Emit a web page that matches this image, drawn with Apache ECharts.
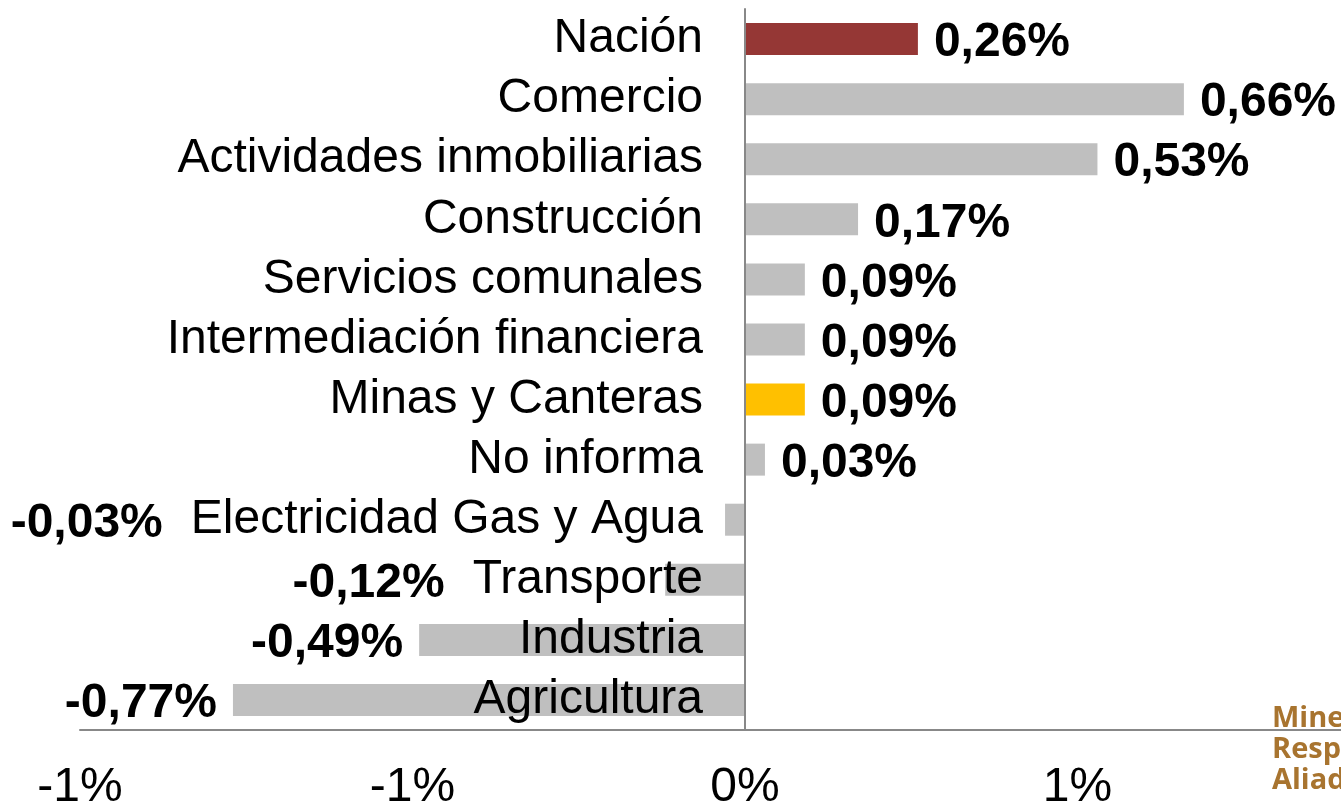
<!DOCTYPE html>
<html>
<head>
<meta charset="utf-8">
<script src="https://cdn.jsdelivr.net/npm/echarts@6/dist/echarts.min.js"></script>
<style>
html,body{margin:0;padding:0;background:#fff;}
#chart{width:1341px;height:807px;}
</style>
</head>
<body>
<div id="chart"></div>
<script>
var categories = ['Nación','Comercio','Actividades inmobiliarias','Construcción','Servicios comunales','Intermediación financiera','Minas y Canteras','No informa','Electricidad Gas y Agua','Transporte','Industria','Agricultura'];
var values = [0.26, 0.66, 0.53, 0.17, 0.09, 0.09, 0.09, 0.03, -0.03, -0.12, -0.49, -0.77];
var tickLabels = ['-1%','-1%','0%','1%','1%'];
var logoLines = ['Mine','Resp','Aliad'];

var highlight = {'Nación':'#953735','Minas y Canteras':'#FFC000'};
var baseColor = '#BFBFBF';
var font = '"Liberation Sans", Arial, sans-serif';
var fontSize = 48;
var catMargin = 42, labelDist = 16, labelGap = 28, labelDy = 4;

var gridLeft = 80, gridRight = -69, xMin = -1, xMax = 1;
var gridWidth = 1341 - gridLeft - gridRight;
var zeroOffset = gridWidth * (0 - xMin) / (xMax - xMin);

var ctx = document.createElement('canvas').getContext('2d');
ctx.font = fontSize + 'px ' + font;
function textW(t){ return ctx.measureText(t).width; }

var chart = echarts.init(document.getElementById('chart'));

function buildData(){
  return values.map(function(v,i){
    var item = {
      value:v,
      itemStyle:{color:highlight[categories[i]] || baseColor},
      label:{position: v>=0 ? 'right' : 'left', offset:[0,labelDy]}
    };
    if (v < 0 && chart.getModel()) {
      var zeroPx = chart.convertToPixel({xAxisIndex:0}, 0);
      var barStart = chart.convertToPixel({xAxisIndex:0}, v);
      var textLeft = zeroPx - catMargin - textW(categories[i]);
      var defRight = barStart - labelDist;
      var wanted = textLeft - labelGap;
      if (defRight > wanted) item.label.offset = [wanted - defRight, labelDy];
    }
    return item;
  });
}

var option = {
  animation:false,
  backgroundColor:'#fff',
  grid:{left:gridLeft, right:gridRight, top:9, bottom:77, containLabel:false, outerBoundsMode:'none'},
  xAxis:{
    type:'value', min:xMin, max:xMax, interval:0.5,
    axisLine:{show:true, onZero:false, lineStyle:{color:'#888', width:2}},
    axisTick:{show:false},
    splitLine:{show:false},
    axisLabel:{
      fontFamily:font, fontSize:fontSize, color:'#000', margin:34, hideOverlap:false,
      formatter:function(v){ return tickLabels[Math.round((v - xMin)/0.5)]; }
    }
  },
  yAxis:{
    type:'category', inverse:true, data:categories,
    offset:-zeroOffset, z:5,
    axisLine:{show:true, onZero:false, lineStyle:{color:'#888', width:2}},
    axisTick:{show:false},
    axisLabel:{fontFamily:font, fontSize:fontSize, color:'#000', margin:catMargin, interval:0, hideOverlap:false, padding:[11,0,0,0]}
  },
  series:[{
    type:'bar',
    barWidth:32,
    z:2,
    data:[],
    label:{
      show:true, distance:labelDist,
      fontFamily:font, fontSize:fontSize, fontWeight:'bold', color:'#000',
      formatter:function(p){ return p.value.toFixed(2).replace('.', ',') + '%'; }
    }
  }],
  graphic: logoLines.map(function(t,i){
    return {
      type:'text', x:1272, y:704 + i*31, z:10,
      style:{text:t, fontFamily:'"Open Sans", sans-serif', fontWeight:'bold', fontSize:29, fill:'#A8742F'}
    };
  })
};
chart.setOption(option);
chart.setOption({series:[{data:buildData()}]});
</script>
</body>
</html>
